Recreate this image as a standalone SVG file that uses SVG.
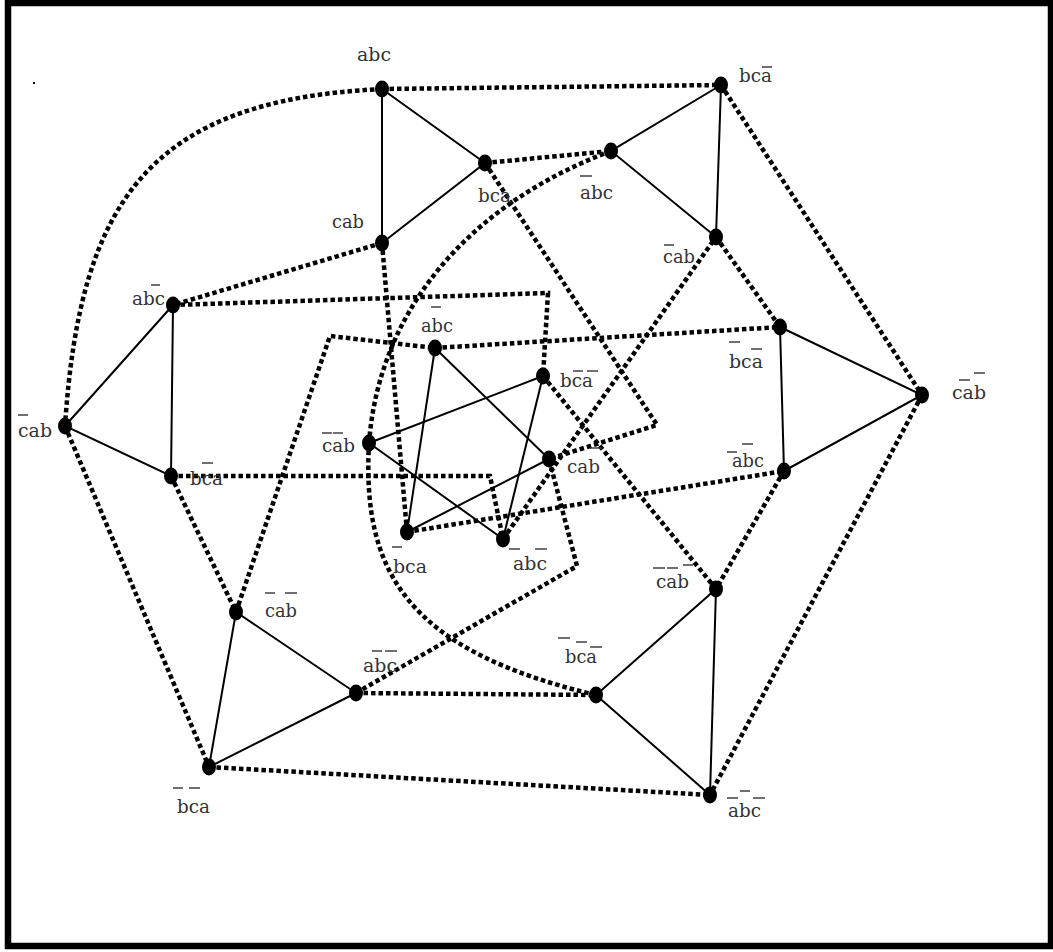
<svg xmlns="http://www.w3.org/2000/svg" width="1053" height="952" viewBox="0 0 1053 952">
<style>
.frame{fill:none;stroke:#000;stroke-width:6.5}
.s{stroke:#000;stroke-width:2;fill:none}
.d{stroke:#000;stroke-width:4.5;stroke-dasharray:4.5 3;fill:none}
.n{fill:#000}
.t{font-family:"DejaVu Serif","Liberation Serif",serif;font-size:19px;fill:#333}
.b{stroke:#333;stroke-width:1.4}
</style>
<rect width="1053" height="952" fill="#fff"/>
<rect class="frame" x="8" y="3" width="1043" height="943"/>
<rect x="33" y="82" width="2" height="2" fill="#000"/>
<g id="connectors">
<g id="dotted">
<path class="d" d="M382,89 L721,85"/>
<path class="d" d="M382,89 C150,100 80,200 65,426"/>
<path class="d" d="M485,163 L611,151"/>
<path class="d" d="M485,163 L657,425 L549,459"/>
<path class="d" d="M611,151 C480,200 380,300 369,443"/>
<path class="d" d="M369,443 C362,570 405,650 596,695"/>
<path class="d" d="M382,243 L173,305"/>
<path class="d" d="M382,243 L407,532"/>
<path class="d" d="M173,305 L548,293 L543,376"/>
<path class="d" d="M65,426 L209,767"/>
<path class="d" d="M171,476 L490,476 L503,539"/>
<path class="d" d="M171,476 L236,612"/>
<path class="d" d="M236,612 L330,336 L435,348"/>
<path class="d" d="M435,348 L780,327"/>
<path class="d" d="M356,693 L577,566 L549,459"/>
<path class="d" d="M356,693 L596,695"/>
<path class="d" d="M209,767 L710,795"/>
<path class="d" d="M407,532 L784,471"/>
<path class="d" d="M503,539 L716,237"/>
<path class="d" d="M543,376 L716,589"/>
<path class="d" d="M716,237 L780,327"/>
<path class="d" d="M721,85 L922,395"/>
<path class="d" d="M922,395 L710,795"/>
<path class="d" d="M784,471 L716,589"/>
</g>
<g id="solid">
<path class="s" d="M382,89 L485,163 L382,243 Z"/>
<path class="s" d="M721,85 L611,151 L716,237 Z"/>
<path class="s" d="M173,305 L65,426 L171,476 Z"/>
<path class="s" d="M780,327 L922,395 L784,471 Z"/>
<path class="s" d="M236,612 L356,693 L209,767 Z"/>
<path class="s" d="M716,589 L596,695 L710,795 Z"/>
<path class="s" d="M435,348 L407,532"/>
<path class="s" d="M435,348 L549,459"/>
<path class="s" d="M543,376 L369,443"/>
<path class="s" d="M543,376 L503,539"/>
<path class="s" d="M369,443 L503,539"/>
<path class="s" d="M407,532 L549,459"/>
</g>
</g>
<g id="n1"><ellipse class="n" cx="382" cy="89" rx="7" ry="8.5"/><text class="t" x="357" y="61" textLength="34" lengthAdjust="spacingAndGlyphs">abc</text></g>
<g id="n2"><ellipse class="n" cx="485" cy="163" rx="7" ry="8.5"/><text class="t" x="478" y="202" textLength="33" lengthAdjust="spacingAndGlyphs">bca</text></g>
<g id="n3"><ellipse class="n" cx="382" cy="243" rx="7" ry="8.5"/><text class="t" x="332" y="228" textLength="32" lengthAdjust="spacingAndGlyphs">cab</text></g>
<g id="n4"><ellipse class="n" cx="721" cy="85" rx="7" ry="8.5"/><text class="t" x="739" y="82" textLength="33" lengthAdjust="spacingAndGlyphs">bca</text><line class="b" x1="762" y1="67" x2="772" y2="67"/></g>
<g id="n5"><ellipse class="n" cx="611" cy="151" rx="7" ry="8.5"/><text class="t" x="580" y="199" textLength="33" lengthAdjust="spacingAndGlyphs">abc</text><line class="b" x1="580" y1="176" x2="592" y2="176"/></g>
<g id="n6"><ellipse class="n" cx="716" cy="237" rx="7" ry="8.5"/><text class="t" x="663" y="263" textLength="32" lengthAdjust="spacingAndGlyphs">cab</text><line class="b" x1="664" y1="245" x2="674" y2="245"/></g>
<g id="n7"><ellipse class="n" cx="173" cy="305" rx="7" ry="8.5"/><text class="t" x="132" y="305" textLength="33" lengthAdjust="spacingAndGlyphs">abc</text><line class="b" x1="151" y1="285" x2="160" y2="285"/></g>
<g id="n8"><ellipse class="n" cx="65" cy="426" rx="7" ry="8.5"/><text class="t" x="18" y="437" textLength="34" lengthAdjust="spacingAndGlyphs">cab</text><line class="b" x1="18" y1="415" x2="28" y2="415"/></g>
<g id="n9"><ellipse class="n" cx="171" cy="476" rx="7" ry="8.5"/><text class="t" x="190" y="485" textLength="33" lengthAdjust="spacingAndGlyphs">bca</text><line class="b" x1="202" y1="463" x2="213" y2="463"/></g>
<g id="n10"><ellipse class="n" cx="780" cy="327" rx="7" ry="8.5"/><text class="t" x="729" y="368" textLength="34" lengthAdjust="spacingAndGlyphs">bca</text><line class="b" x1="729" y1="342" x2="740" y2="342"/><line class="b" x1="751" y1="349" x2="762" y2="349"/></g>
<g id="n11"><ellipse class="n" cx="922" cy="395" rx="7" ry="8.5"/><text class="t" x="952" y="399" textLength="34" lengthAdjust="spacingAndGlyphs">cab</text><line class="b" x1="959" y1="380" x2="970" y2="380"/><line class="b" x1="974" y1="373" x2="985" y2="373"/></g>
<g id="n12"><ellipse class="n" cx="784" cy="471" rx="7" ry="8.5"/><text class="t" x="732" y="467" textLength="32" lengthAdjust="spacingAndGlyphs">abc</text><line class="b" x1="727" y1="452" x2="737" y2="452"/><line class="b" x1="742" y1="444" x2="753" y2="444"/></g>
<g id="n13"><ellipse class="n" cx="236" cy="612" rx="7" ry="8.5"/><text class="t" x="265" y="617" textLength="32" lengthAdjust="spacingAndGlyphs">cab</text><line class="b" x1="265" y1="593" x2="275" y2="593"/><line class="b" x1="285" y1="593" x2="297" y2="593"/></g>
<g id="n14"><ellipse class="n" cx="356" cy="693" rx="7" ry="8.5"/><text class="t" x="363" y="672" textLength="34" lengthAdjust="spacingAndGlyphs">abc</text><line class="b" x1="372" y1="651" x2="382" y2="651"/><line class="b" x1="385" y1="651" x2="397" y2="651"/></g>
<g id="n15"><ellipse class="n" cx="209" cy="767" rx="7" ry="8.5"/><text class="t" x="177" y="813" textLength="33" lengthAdjust="spacingAndGlyphs">bca</text><line class="b" x1="173" y1="788" x2="183" y2="788"/><line class="b" x1="189" y1="788" x2="200" y2="788"/></g>
<g id="n16"><ellipse class="n" cx="716" cy="589" rx="7" ry="8.5"/><text class="t" x="656" y="588" textLength="33" lengthAdjust="spacingAndGlyphs">cab</text><line class="b" x1="653" y1="568" x2="665" y2="568"/><line class="b" x1="667" y1="568" x2="678" y2="568"/><line class="b" x1="683" y1="565" x2="693" y2="565"/></g>
<g id="n17"><ellipse class="n" cx="596" cy="695" rx="7" ry="8.5"/><text class="t" x="565" y="663" textLength="32" lengthAdjust="spacingAndGlyphs">bca</text><line class="b" x1="558" y1="638" x2="570" y2="638"/><line class="b" x1="576" y1="642" x2="587" y2="642"/><line class="b" x1="590" y1="647" x2="602" y2="647"/></g>
<g id="n18"><ellipse class="n" cx="710" cy="795" rx="7" ry="8.5"/><text class="t" x="728" y="817" textLength="33" lengthAdjust="spacingAndGlyphs">abc</text><line class="b" x1="727" y1="798" x2="738" y2="798"/><line class="b" x1="740" y1="791" x2="750" y2="791"/><line class="b" x1="753" y1="798" x2="765" y2="798"/></g>
<g id="s1"><ellipse class="n" cx="435" cy="348" rx="7" ry="8.5"/><text class="t" x="421" y="332" textLength="32" lengthAdjust="spacingAndGlyphs">abc</text><line class="b" x1="431" y1="307" x2="441" y2="307"/></g>
<g id="s2"><ellipse class="n" cx="543" cy="376" rx="7" ry="8.5"/><text class="t" x="560" y="387" textLength="33" lengthAdjust="spacingAndGlyphs">bca</text><line class="b" x1="573" y1="371" x2="583" y2="371"/><line class="b" x1="587" y1="371" x2="598" y2="371"/></g>
<g id="s3"><ellipse class="n" cx="369" cy="443" rx="7" ry="8.5"/><text class="t" x="322" y="452" textLength="33" lengthAdjust="spacingAndGlyphs">cab</text><line class="b" x1="322" y1="433" x2="332" y2="433"/><line class="b" x1="333" y1="433" x2="343" y2="433"/></g>
<g id="s4"><ellipse class="n" cx="549" cy="459" rx="7" ry="8.5"/><text class="t" x="567" y="473" textLength="33" lengthAdjust="spacingAndGlyphs">cab</text><line class="b" x1="590" y1="448" x2="602" y2="448"/></g>
<g id="s5"><ellipse class="n" cx="407" cy="532" rx="7" ry="8.5"/><text class="t" x="393" y="573" textLength="34" lengthAdjust="spacingAndGlyphs">bca</text><line class="b" x1="392" y1="547" x2="402" y2="547"/></g>
<g id="s6"><ellipse class="n" cx="503" cy="539" rx="7" ry="8.5"/><text class="t" x="513" y="570" textLength="34" lengthAdjust="spacingAndGlyphs">abc</text><line class="b" x1="509" y1="549" x2="520" y2="549"/><line class="b" x1="535" y1="549" x2="547" y2="549"/></g>
</svg>
